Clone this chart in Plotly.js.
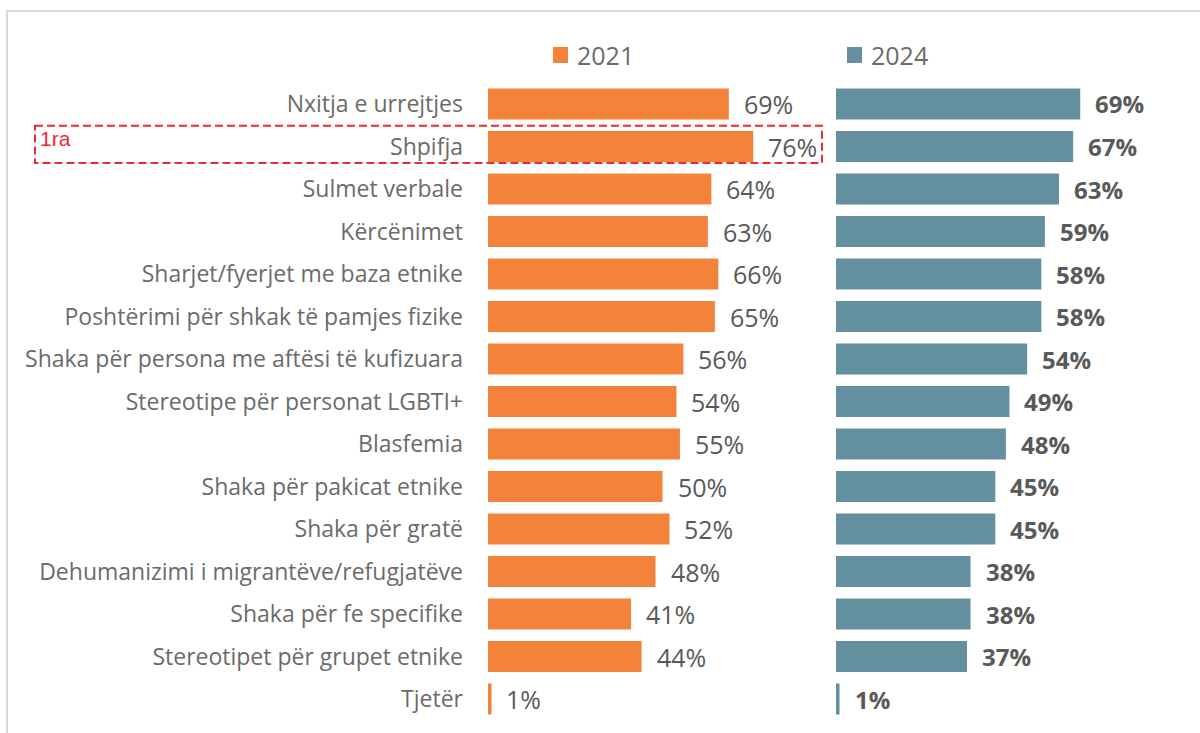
<!DOCTYPE html>
<html>
<head>
<meta charset="utf-8">
<script src="https://cdn.plot.ly/plotly-3.0.1.min.js"></script>
<style>html,body{margin:0;padding:0;background:#fff;}#chart{width:1200px;height:733px;}</style>
</head>
<body>
<div id="chart"></div>
<script>
const categories = [
  "Nxitja e urrejtjes",
  "Shpifja",
  "Sulmet verbale",
  "Kërcënimet",
  "Sharjet/fyerjet me baza etnike",
  "Poshtërimi për shkak të pamjes fizike",
  "Shaka për persona me aftësi të kufizuara",
  "Stereotipe për personat LGBTI+",
  "Blasfemia",
  "Shaka për pakicat etnike",
  "Shaka për gratë",
  "Dehumanizimi i migrantëve/refugjatëve",
  "Shaka për fe specifike",
  "Stereotipet për grupet etnike",
  "Tjetër"
];
const values2021 = [69, 76, 64, 63, 66, 65, 56, 54, 55, 50, 52, 48, 41, 44, 1];
const values2024 = [69, 67, 63, 59, 58, 58, 54, 49, 48, 45, 45, 38, 38, 37, 1];
const seriesNames = ["2021", "2024"];
const highlightLabel = "1ra";
const highlightCategory = "Shpifja";

const W = 1200, H = 733;
const px = v => v / W;
const py = v => 1 - v / H;

const ORANGE = "#F3833A";
const TEAL = "#648F9E";
const GRAY = "#6b6b6b";
const RED = "#EE2A2E";
const FONT = "Open Sans, Noto Sans, sans-serif";

const traces = [
  {type: "bar", orientation: "h", name: seriesNames[0], y: categories, x: values2021,
   xaxis: "x", yaxis: "y", marker: {color: ORANGE}, hoverinfo: "skip"},
  {type: "bar", orientation: "h", name: seriesNames[1], y: categories, x: values2024,
   xaxis: "x2", yaxis: "y", marker: {color: TEAL}, hoverinfo: "skip"}
];

const annotations = [];
categories.forEach((c, i) => {
  annotations.push({xref: "x", yref: "y", x: values2021[i], y: c, text: values2021[i] + "%",
    showarrow: false, xanchor: "left", yanchor: "middle", xshift: 13,
    font: {family: FONT, size: 25, color: "#595959"}});
  annotations.push({xref: "x2", yref: "y", x: values2024[i], y: c, text: "<b>" + values2024[i] + "%</b>",
    showarrow: false, xanchor: "left", yanchor: "middle", xshift: 13,
    font: {family: FONT, size: 24, color: "#595959"}});
});
// legend texts
annotations.push({xref: "paper", yref: "paper", x: px(575), y: py(55), text: seriesNames[0],
  showarrow: false, xanchor: "left", yanchor: "middle", font: {family: FONT, size: 25, color: GRAY}});
annotations.push({xref: "paper", yref: "paper", x: px(869), y: py(55), text: seriesNames[1],
  showarrow: false, xanchor: "left", yanchor: "middle", font: {family: FONT, size: 25, color: GRAY}});
// highlight label
annotations.push({xref: "paper", yref: "paper", x: px(38), y: py(125), text: highlightLabel,
  showarrow: false, xanchor: "left", yanchor: "top",
  font: {family: "Liberation Sans, Arial, sans-serif", size: 21, color: RED}});

const hi = categories.indexOf(highlightCategory);
const shapes = [
  // outer frame (top and left edge visible)
  {type: "rect", xref: "paper", yref: "paper", x0: px(7), x1: px(1215), y0: py(11), y1: py(750),
   line: {color: "#d9d9d9", width: 2}, fillcolor: "rgba(0,0,0,0)", layer: "below"},
  // legend squares
  {type: "rect", xref: "paper", yref: "paper", x0: px(553), x1: px(568), y0: py(47), y1: py(63),
   line: {width: 0}, fillcolor: ORANGE},
  {type: "rect", xref: "paper", yref: "paper", x0: px(847), x1: px(862), y0: py(47), y1: py(63),
   line: {width: 0}, fillcolor: TEAL},
  // dashed highlight box
  {type: "rect", xref: "paper", yref: "y", x0: px(35), x1: px(822), y0: hi - 0.49, y1: hi + 0.39,
   line: {color: RED, width: 2, dash: "8px,4px"}, fillcolor: "rgba(0,0,0,0)"}
];

const layout = {
  width: W, height: H,
  margin: {l: 0, r: 0, t: 0, b: 0},
  paper_bgcolor: "#ffffff", plot_bgcolor: "rgba(0,0,0,0)",
  showlegend: false,
  bargap: 0.27,
  font: {family: FONT, color: GRAY},
  xaxis: {domain: [px(488), px(837)], range: [0, 100], visible: false, fixedrange: true},
  xaxis2: {domain: [px(836), px(1190)], range: [0, 100], visible: false, anchor: "y", fixedrange: true},
  yaxis: {domain: [1 - 720.25 / H, 1 - 82.75 / H], type: "category", categoryorder: "array",
    categoryarray: categories, autorange: "reversed", anchor: "x",
    showgrid: false, zeroline: false, showline: false, ticks: "",
    ticklabelstandoff: 24,
    tickfont: {family: FONT, size: 23, color: GRAY}},
  annotations: annotations,
  shapes: shapes
};

Plotly.newPlot("chart", traces, layout, {staticPlot: true, displayModeBar: false});
</script>
</body>
</html>
